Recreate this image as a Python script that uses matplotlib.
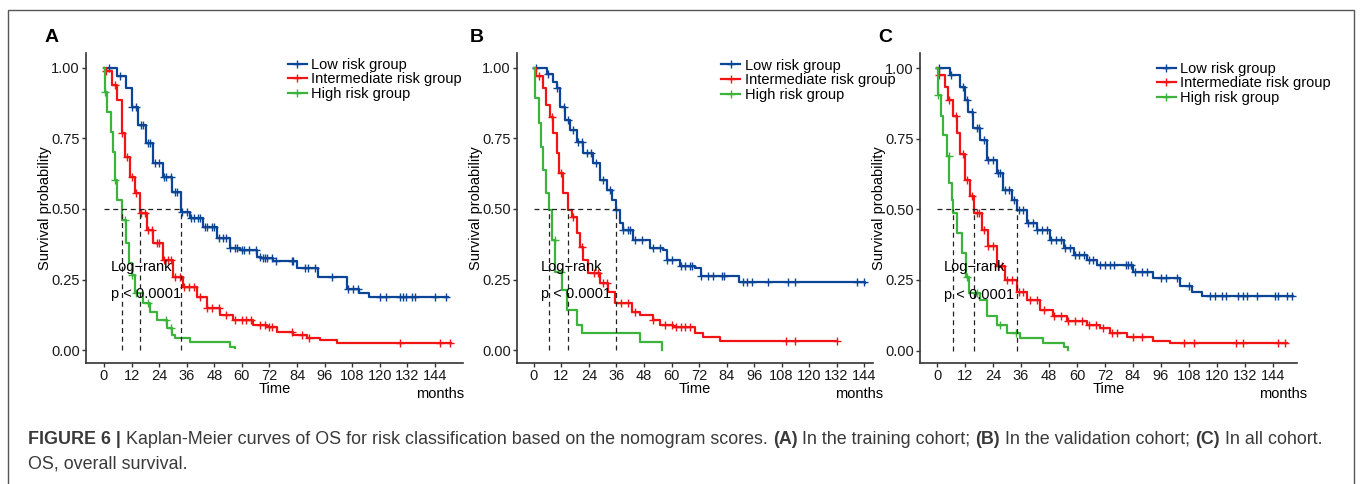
import numpy as np
import matplotlib
matplotlib.use("Agg")
import matplotlib.pyplot as plt
from matplotlib.lines import Line2D
from matplotlib.patches import Rectangle

plt.rcParams['font.family'] = ['Liberation Sans', 'DejaVu Sans']

# ---- data (months, survival probability) ----
groups = ['Low risk group', 'Intermediate risk group', 'High risk group']
colors = ['#0C4596', '#F21414', '#3CB43C']
ticks_x = [0, 12, 24, 36, 48, 60, 72, 84, 96, 108, 120, 132, 144]
ticks_y = [0.00, 0.25, 0.50, 0.75, 1.00]

# panel A: training cohort
a_low_t = [0, 5.5, 9.8, 12, 14.9, 18.5, 21.5, 25.8, 29.4, 33.5, 37.4, 43.2, 49, 54.8, 59, 66.4, 68.4, 73.6, 83.8, 93.3, 105.8, 111, 115.4, 149.8]
a_low_s = [1.0, 0.97, 0.928, 0.863, 0.798, 0.733, 0.662, 0.615, 0.561, 0.49, 0.467, 0.437, 0.396, 0.361, 0.355, 0.331, 0.325, 0.316, 0.29, 0.259, 0.216, 0.201, 0.187, 0.187]
a_int_t = [0, 1, 3.3, 5.5, 7.7, 9.1, 11.3, 13.5, 15.7, 18.6, 21.4, 25.8, 30.2, 34.5, 40.3, 44.7, 50.5, 56.2, 64.9, 70.8, 75.1, 82.4, 88.2, 94, 101.2, 151]
a_int_s = [1.0, 0.99, 0.94, 0.887, 0.768, 0.686, 0.615, 0.556, 0.485, 0.426, 0.378, 0.319, 0.26, 0.224, 0.189, 0.148, 0.124, 0.106, 0.089, 0.083, 0.065, 0.053, 0.041, 0.035, 0.026, 0.026]
a_high_t = [0, 0.5, 1.4, 2.9, 4.1, 4.8, 5.8, 7.8, 9.8, 11, 12, 13.5, 17.1, 20, 22.9, 27.3, 29.4, 30.9, 37.4, 54.8, 57]
a_high_s = [1.0, 0.916, 0.845, 0.774, 0.703, 0.603, 0.532, 0.461, 0.378, 0.307, 0.266, 0.201, 0.165, 0.136, 0.106, 0.077, 0.053, 0.041, 0.03, 0.012, 0.006]
a_low_cens = [2, 7, 12, 14, 16, 17, 19, 20, 22, 24, 26, 27, 29, 31, 32, 34, 36, 38, 39, 41, 42, 44, 45, 47, 48, 50, 52, 53, 55, 57, 58, 60, 61, 63, 66, 68, 69, 70, 71, 73, 75, 81.6, 82.4, 87.4, 88.9, 91.8, 99, 106.2, 108.4, 110.6, 120, 122.9, 128.7, 130.2, 131.6, 133.8, 135.2, 143.9, 149]
a_int_cens = [1, 5, 8, 10, 12, 14, 16, 18, 19, 21, 23, 24, 26, 28, 29, 31, 33, 35, 37, 39, 42, 45, 47, 50, 53, 57, 60, 62, 64, 68, 70, 72, 73, 81.6, 86, 89, 128.7, 146, 150.5]
a_high_cens = [0.6, 5, 9, 12, 14, 19, 27, 29]

# panel B: validation cohort
b_low_t = [0, 5.5, 8.4, 9.9, 11.3, 13.5, 15.7, 18.6, 21.5, 25.9, 28.8, 31.7, 33.9, 35.8, 37.5, 39, 43.3, 50.6, 56.4, 57.9, 63.7, 70.2, 72.7, 89.5, 144.4]
b_low_s = [1.0, 0.98, 0.951, 0.928, 0.863, 0.816, 0.78, 0.739, 0.698, 0.662, 0.603, 0.567, 0.532, 0.496, 0.449, 0.426, 0.39, 0.361, 0.355, 0.319, 0.298, 0.29, 0.264, 0.24, 0.236]
b_int_t = [0, 1, 4.1, 5.2, 7, 8.2, 9.9, 11, 12.8, 15, 16.4, 18.6, 20.1, 21.5, 23.7, 28.8, 32.4, 35.3, 42.6, 46.2, 52, 55, 60.8, 70.2, 73.6, 81.2, 132.1]
b_int_s = [1.0, 0.97, 0.928, 0.869, 0.827, 0.768, 0.698, 0.627, 0.556, 0.495, 0.473, 0.414, 0.366, 0.319, 0.272, 0.236, 0.207, 0.165, 0.136, 0.124, 0.106, 0.089, 0.083, 0.061, 0.047, 0.033, 0.033]
b_high_t = [0, 0.5, 2, 3.1, 4.1, 5.2, 6.4, 7.7, 9.2, 12.1, 14.3, 18.6, 20.8, 46.2, 55.7]
b_high_s = [1.0, 0.892, 0.804, 0.721, 0.638, 0.556, 0.496, 0.39, 0.278, 0.213, 0.142, 0.089, 0.059, 0.03, 0.0]
b_low_cens = [1, 6, 10, 13, 15, 17, 19, 21, 23, 25, 27, 30, 33, 36, 39, 41, 42, 44, 47, 52, 55, 58, 60, 64, 66, 68, 69, 73, 76, 78, 82, 83, 91, 93, 95, 102, 111, 114, 141, 144]
b_int_cens = [2, 8, 12, 17, 21, 26, 28, 30, 32, 38, 41, 44, 52, 57, 60, 62, 64, 66, 68, 110, 114, 132]
b_high_cens = [9, 12]

# panel C: all cohort
c_low_t = [0, 5.6, 9.9, 12, 13.4, 15.6, 18.4, 21.3, 25.6, 28.4, 32, 34.3, 38.4, 42.7, 48.4, 54.3, 58.6, 64.3, 68.4, 84.1, 92.7, 104.1, 109.1, 113.4, 152.7]
c_low_s = [1.0, 0.977, 0.935, 0.888, 0.846, 0.788, 0.746, 0.675, 0.628, 0.569, 0.533, 0.498, 0.451, 0.427, 0.392, 0.363, 0.339, 0.322, 0.304, 0.277, 0.257, 0.227, 0.209, 0.194, 0.194]
c_int_t = [0, 1, 3.4, 4.9, 7, 8.4, 9.9, 12, 14.1, 15.7, 19.1, 22, 25.6, 29.1, 34.1, 38.4, 44.1, 49.9, 55.6, 64.3, 69.9, 74.1, 81.3, 92.7, 99.9, 149.9]
c_int_s = [1.0, 0.977, 0.935, 0.888, 0.83, 0.769, 0.698, 0.604, 0.546, 0.487, 0.428, 0.369, 0.298, 0.251, 0.209, 0.18, 0.144, 0.121, 0.103, 0.091, 0.079, 0.062, 0.047, 0.035, 0.028, 0.028]
c_high_t = [0, 0.3, 1.7, 2.7, 4.2, 5.3, 6.3, 6.8, 8.7, 10.6, 12.5, 13.9, 18.4, 21.3, 25.6, 29.9, 35.6, 45.6, 54.3, 56.3]
c_high_s = [1.0, 0.906, 0.83, 0.765, 0.688, 0.593, 0.533, 0.487, 0.416, 0.345, 0.262, 0.203, 0.18, 0.121, 0.091, 0.062, 0.044, 0.028, 0.014, 0.002]
c_low_cens = [1, 6, 11, 13, 15, 17, 18, 20, 22, 24, 26, 27, 29, 31, 33, 35, 37, 39, 41, 43, 45, 47, 49, 51, 53, 55, 57, 59, 61, 63, 65, 67, 70, 72, 74, 76, 81, 82, 83, 85, 88, 90, 96, 98, 103, 108, 117, 119, 122, 124, 129, 131, 133, 137, 145, 146, 150, 152]
c_int_cens = [1, 5, 8, 11, 13, 15, 17, 18, 20, 22, 24, 26, 28, 30, 32, 35, 37, 40, 43, 46, 50, 53, 56, 59, 62, 65, 68, 71, 75, 77, 84, 88, 106, 110, 128, 131, 146, 149]
c_high_cens = [0.5, 5, 13, 17, 27, 34]

panels = [
    ('A', [(a_low_t, a_low_s, a_low_cens), (a_int_t, a_int_s, a_int_cens), (a_high_t, a_high_s, a_high_cens)]),
    ('B', [(b_low_t, b_low_s, b_low_cens), (b_int_t, b_int_s, b_int_cens), (b_high_t, b_high_s, b_high_cens)]),
    ('C', [(c_low_t, c_low_s, c_low_cens), (c_int_t, c_int_s, c_int_cens), (c_high_t, c_high_s, c_high_cens)]),
]

# layout (pixels of a 1363x484 canvas)
W, H = 1363, 484
axes_px = [(86, 463), (517, 873), (920, 1297)]
xlims = [(-7.8, 156.2), (-7.4, 147.9), (-7.3, 154.3)]
ylims = [(-0.046, 1.053), (-0.046, 1.053), (-0.044, 1.054)]
legend_x = [0.535, 0.574, 0.628]
legend_y = [0.985, 0.982, 0.972]
months_x = [0.938, 0.961, 0.963]
letter_x = [45, 470, 878]

fig = plt.figure(figsize=(W / 100, H / 100), dpi=100)

# outer frame
fig.patches.append(Rectangle((8 / W, -0.1), (1354 - 8) / W, 1.1 - 10 / H, transform=fig.transFigure,
                             fill=False, edgecolor='#555555', lw=1.0))


def step_value(t, s, x):
    i = np.searchsorted(t, x, side='right') - 1
    return np.asarray(s)[i]


for k, (letter, curves) in enumerate(panels):
    l, r = axes_px[k]
    ax = fig.add_axes([l / W, (H - 363) / H, (r - l) / W, 310 / H])
    ax.set_xlim(*xlims[k])
    ax.set_ylim(*ylims[k])

    medians = []
    for (t, s, cens), col, name in zip(curves, colors, groups):
        ax.step(t, s, where='post', color=col, lw=1.6, zorder=3)
        cy = step_value(t, s, cens)
        ax.plot(cens, cy, ls='none', marker='+', ms=6, mew=1.0, color=col, zorder=3)
        below = np.nonzero(np.asarray(s) <= 0.5)[0]
        medians.append(np.asarray(t)[below[0]])

    # median lines
    ax.plot([0, max(medians)], [0.5, 0.5], ls=(0, (4, 3)), color='#222222', lw=0.9, zorder=4)
    for m in medians:
        ax.plot([m, m], [0, 0.5], ls=(0, (4, 3)), color='#222222', lw=0.9, zorder=4)

    ax.text(3.0, 0.295, 'Log\u2212rank', fontsize=10.5, va='center', ha='left', zorder=5)
    ax.text(3.0, 0.197, 'p < 0.0001', fontsize=10.5, va='center', ha='left', zorder=5)

    for side in ['top', 'right']:
        ax.spines[side].set_visible(False)
    for side in ['left', 'bottom']:
        ax.spines[side].set_color('#333333')
        ax.spines[side].set_linewidth(1.2)
    ax.set_xticks(ticks_x)
    ax.set_yticks(ticks_y)
    ax.set_yticklabels(['%.2f' % v for v in ticks_y])
    ax.tick_params(length=3, width=1, color='#333333', labelsize=10.5, labelcolor='#1a1a1a', pad=1.5)
    ax.set_xlabel('Time', fontsize=10.5, labelpad=-1)
    ax.set_ylabel('Survival probability', fontsize=10.5, labelpad=-1)
    ax.text(months_x[k], -0.1, 'months', transform=ax.transAxes, fontsize=10.5, ha='center', va='center')

    handles = [Line2D([], [], color=c, lw=1.6, marker='+', ms=6, mew=1.0) for c in colors]
    ax.legend(handles, groups, loc='upper left', bbox_to_anchor=(legend_x[k], legend_y[k]),
              frameon=False, fontsize=10.5, handlelength=1.3, handletextpad=0.3,
              labelspacing=0.05, borderpad=0, borderaxespad=0)

    fig.text(letter_x[k] / W, 1 - 37 / H, letter, fontsize=14, fontweight='bold', va='center', ha='left')

# caption with bold pieces, laid out piece by piece
fig.canvas.draw()
renderer = fig.canvas.get_renderer()
line1 = [('FIGURE 6 | ', True),
         ('Kaplan-Meier curves of OS for risk classification based on the nomogram scores. ', False),
         ('(A)', True), (' In the training cohort; ', False),
         ('(B)', True), (' In the validation cohort; ', False),
         ('(C)', True), (' In all cohort.', False)]
x = 28 / W
for txt, bold in line1:
    t = fig.text(x, 1 - 439 / H, txt, fontsize=12.9, color='#3a3a3a', va='center', ha='left',
                 fontweight='bold' if bold else 'normal')
    bb = t.get_window_extent(renderer)
    x += bb.width / W
fig.text(28 / W, 1 - 464 / H, 'OS, overall survival.', fontsize=12.9, color='#3a3a3a', va='center', ha='left')

fig.savefig('out.png', dpi=100)
